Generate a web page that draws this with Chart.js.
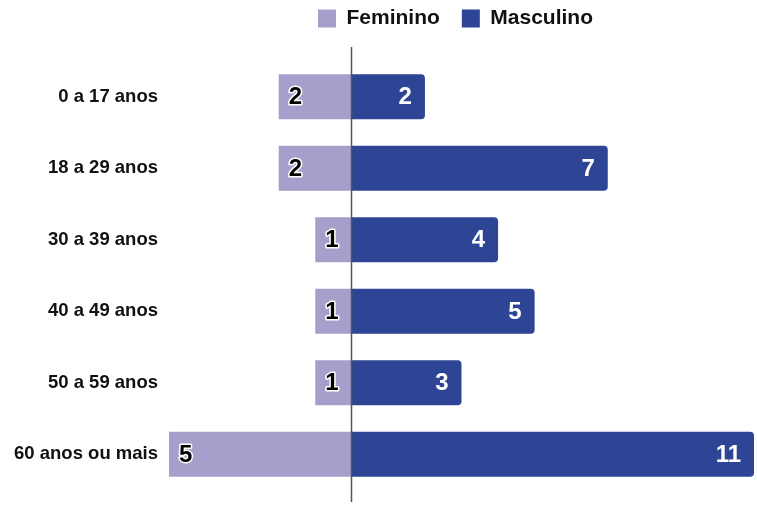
<!DOCTYPE html>
<html>
<head>
<meta charset="utf-8">
<script src="https://cdn.jsdelivr.net/npm/chart.js@4"></script>
<style>
  html, body { margin: 0; padding: 0; background: #fff; }
  #wrap { width: 757px; height: 506px; }
</style>
</head>
<body>
<div id="wrap"><canvas id="myChart"></canvas></div>
<script>
var faixas = ["0 a 17 anos", "18 a 29 anos", "30 a 39 anos", "40 a 49 anos", "50 a 59 anos", "60 anos ou mais"];
var feminino = [2, 2, 1, 1, 1, 5];
var masculino = [2, 7, 4, 5, 3, 11];
var fonte = "Arial, 'Liberation Sans', sans-serif";

// feminino goes to the left side of the pyramid
var femNeg = feminino.map(function (v) { return -v; });

// legend: reserve a fixed band above the plot and nudge it into place
var legendBand = {
  id: "legendBand",
  beforeInit: function (chart) {
    var lg = chart.legend;
    var fit = lg.fit;
    lg.fit = function () {
      fit.call(this);
      this.height = 61;
    };
  },
  afterLayout: function (chart) {
    var lg = chart.legend;
    lg.top = -14;
    lg.left -= 6;
    lg.right -= 6;
  }
};

var centerLine = {
  id: "centerLine",
  afterDatasetsDraw: function (chart) {
    var ctx = chart.ctx, area = chart.chartArea;
    var x = Math.round(chart.scales.x.getPixelForValue(0)) - 0.5;
    ctx.save();
    ctx.strokeStyle = "#555";
    ctx.lineWidth = 1.5;
    ctx.beginPath();
    ctx.moveTo(x, area.top - 14);
    ctx.lineTo(x, area.bottom + 12);
    ctx.stroke();
    ctx.restore();
  }
};

var barLabels = {
  id: "barLabels",
  afterDraw: function (chart) {
    var ctx = chart.ctx;
    ctx.save();
    ctx.font = "bold 24px " + fonte;
    ctx.textBaseline = "middle";
    chart.data.datasets.forEach(function (ds, i) {
      var meta = chart.getDatasetMeta(i);
      meta.data.forEach(function (bar, j) {
        var val = Math.abs(ds.data[j]);
        if (i === 0) {
          ctx.textAlign = "left";
          ctx.lineJoin = "round";
          ctx.strokeStyle = "#fff";
          ctx.lineWidth = 3;
          ctx.strokeText(val, bar.x + 10, bar.y + 1);
          ctx.fillStyle = "#000";
          ctx.fillText(val, bar.x + 10, bar.y + 1);
        } else {
          ctx.textAlign = "right";
          ctx.fillStyle = "#fff";
          ctx.fillText(val, bar.x - 13, bar.y + 1);
        }
      });
    });
    ctx.restore();
  }
};

new Chart("myChart", {
  type: "bar",
  data: {
    labels: faixas,
    datasets: [{
      label: "Feminino",
      data: femNeg,
      backgroundColor: "#A79ECB",
      barPercentage: 0.63,
      categoryPercentage: 1
    }, {
      label: "Masculino",
      data: masculino,
      backgroundColor: "#2E4494",
      borderRadius: 4,
      borderSkipped: "start",
      barPercentage: 0.63,
      categoryPercentage: 1
    }]
  },
  options: {
    indexAxis: "y",
    responsive: true,
    maintainAspectRatio: false,
    animation: false,
    layout: { padding: { left: 0, right: 3, top: 0, bottom: 16 } },
    plugins: {
      tooltip: { enabled: false },
      legend: {
        position: "top",
        fullSize: false,
        labels: {
          boxWidth: 18,
          boxHeight: 18,
          padding: 22,
          color: "#111",
          font: { family: fonte, size: 21, weight: "bold" }
        }
      }
    },
    scales: {
      x: {
        stacked: true,
        min: -5,
        max: 11,
        display: false
      },
      y: {
        stacked: true,
        grid: { display: false, drawTicks: false },
        border: { display: false },
        ticks: {
          padding: 11,
          color: "#111",
          font: { family: fonte, size: 18.5, weight: "bold" }
        },
        afterFit: function (scale) {
          scale.width = 169;
          scale.paddingTop = 0;
          scale.paddingBottom = 0;
        }
      }
    }
  },
  plugins: [legendBand, centerLine, barLabels]
});
</script>
</body>
</html>
